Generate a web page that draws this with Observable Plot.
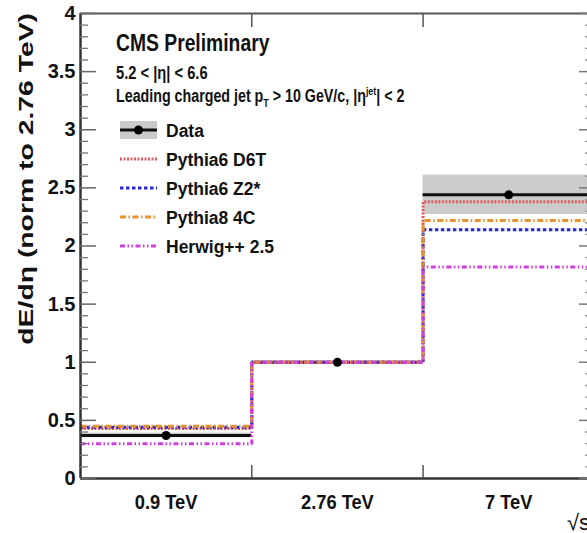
<!DOCTYPE html>
<html><head><meta charset="utf-8">
<script src="https://cdn.jsdelivr.net/npm/d3@7"></script>
<script src="https://cdn.jsdelivr.net/npm/@observablehq/plot@0.6"></script>
<style>html,body{margin:0;padding:0;background:#fff;overflow:hidden;}</style>
</head><body><div id="chart"></div>
<script>
// ---- data ----
const categories = ["0.9 TeV", "2.76 TeV", "7 TeV"];
const dataValues = [0.37, 1.0, 2.44];
const dataErrors = [0.02, 0.0, 0.17];
const d6tValues = [0.43, 1.0, 2.38];
const z2Values = [0.44, 1.0, 2.14];
const p8Values = [0.45, 1.0, 2.22];
const herwigValues = [0.30, 1.0, 1.82];
const seriesNames = ["Pythia6 D6T", "Pythia6 Z2*", "Pythia8 4C", "Herwig++ 2.5"];
const yMajorTicks = [0, 0.5, 1, 1.5, 2, 2.5, 3, 3.5, 4];
const yTickLabels = ["0", "0.5", "1", "1.5", "2", "2.5", "3", "3.5", "4"];

// ---- styles ----
const seriesColors = ["#e05c5c", "#2a2ad0", "#e8922e", "#d040de"];
const seriesDash = ["2,1.5", "3.5,2.5", "6,2.5,1.5,2.5", "5,2.5,1.5,2.5,1.5,2.5"];
const font = "'Liberation Sans', Arial, Helvetica, sans-serif";

const seriesValues = [d6tValues, z2Values, p8Values, herwigValues];
const bins = categories.map((c, i) => ({
  cat: c, x1: i, x2: i + 1, xc: i + 0.5,
  y: dataValues[i], lo: dataValues[i] - dataErrors[i], hi: dataValues[i] + dataErrors[i], err: dataErrors[i]
}));
const steps = vals => [...vals.map((v, i) => ({x: i, y: v})), {x: vals.length, y: vals[vals.length - 1]}];
const yMinor = d3.range(0, 4.001, 0.1).map(v => +v.toFixed(1)).filter(v => !yMajorTicks.includes(v));
const binEdges = d3.range(1, categories.length);
const binCenters = categories.map((c, i) => i + 0.5);
const xMax = 2.96; // right edge of the frame is cropped in the reference

const axisStroke = "#333";
const plot = Plot.plot({
  width: 587, height: 533,
  marginLeft: 80, marginRight: 0, marginTop: 13, marginBottom: 55,
  style: {fontFamily: font, fontWeight: "bold", color: "#111", background: "#fff"},
  x: {domain: [0, xMax], axis: null},
  y: {domain: [0, 4], axis: null},
  marks: [
    Plot.rect(bins.filter(d => d.err > 0), {x1: "x1", x2: "x2", y1: "lo", y2: "hi", fill: "#cbcbcb", clip: true}),
    Plot.ruleY(bins, {x1: "x1", x2: "x2", y: "y", stroke: "#111", strokeWidth: 3, clip: true}),
    ...seriesValues.map((vals, k) => Plot.line(steps(vals), {
      x: "x", y: "y", curve: "step-after", stroke: seriesColors[k], strokeWidth: 3,
      strokeDasharray: seriesDash[k], strokeLinecap: "butt", strokeLinejoin: "miter", clip: true
    })),
    Plot.dot(bins, {x: "xc", y: "y", r: 4.5, fill: "#000", stroke: "none"}),
    // frame
    Plot.ruleX([0], {stroke: axisStroke, strokeWidth: 2.5}),
    Plot.ruleY([0], {stroke: axisStroke, strokeWidth: 2.5}),
    Plot.ruleY([4], {stroke: "#555", strokeWidth: 2}),
    // y axes
    Plot.axisY({anchor: "left", ticks: yMajorTicks, tickFormat: (d, i) => yTickLabels[i], tickSize: -16, tickPadding: 21, fontSize: 20, stroke: "#666", strokeWidth: 1.5, label: null}),
    Plot.axisY({anchor: "left", ticks: yMinor, tickSize: -8, text: null, stroke: "#777", strokeWidth: 1.3, label: null}),
    Plot.axisY({anchor: "right", ticks: yMajorTicks, tickSize: -9, text: null, stroke: "#777", strokeWidth: 1.5, label: null}),
    Plot.axisY({anchor: "right", ticks: yMinor, tickSize: -3, text: null, stroke: "#999", strokeWidth: 1.3, label: null}),
    // x axes
    Plot.axisX({anchor: "bottom", ticks: binCenters, tickFormat: (d, i) => categories[i], tickSize: 0, tickPadding: 16, fontSize: 21, label: null}),
    Plot.axisX({anchor: "bottom", ticks: binEdges, tickSize: -13, text: null, stroke: "#555", strokeWidth: 1.5, label: null}),
    Plot.axisX({anchor: "top", ticks: binEdges, tickSize: -13, text: null, stroke: "#555", strokeWidth: 1.5, label: null})
  ]
});
document.getElementById("chart").appendChild(plot);

const svg = d3.select(plot);
// condense x tick labels
svg.selectAll('g[aria-label="x-axis tick label"] text').attr("transform", function() {
  return (this.getAttribute("transform") || "") + " scale(0.87,1)";
});

const ann = svg.append("g").attr("font-family", font).attr("font-weight", "bold")
  .attr("fill", "#111").attr("text-anchor", "start");

// y-axis title
ann.append("text").attr("transform", "translate(33,13) rotate(-90) scale(1.35,1)")
  .attr("text-anchor", "end").attr("font-size", 21).text("dE/dη (norm to 2.76 TeV)");

// x-axis title (cropped at the right edge, as in the reference)
ann.append("text").attr("x", 567).attr("y", 530).attr("font-size", 22).attr("font-weight", "normal").text("√s");

// header texts
ann.append("text").attr("transform", "translate(116,51) scale(0.84,1)").attr("font-size", 23).text("CMS Preliminary");
ann.append("text").attr("transform", "translate(116,79) scale(0.84,1)").attr("font-size", 17.5).text("5.2 < |η| < 6.6");
const t3 = ann.append("text").attr("transform", "translate(116,101.5) scale(0.815,1)").attr("font-size", 17.5);
t3.append("tspan").text("Leading charged jet p");
t3.append("tspan").attr("font-size", 11).attr("dy", 5).text("T");
t3.append("tspan").attr("dy", -5).text(" > 10 GeV/c, |η");
t3.append("tspan").attr("font-size", 11).attr("dy", -7).text("jet");
t3.append("tspan").attr("dy", 7).text("| < 2");

// legend
const legX1 = 120, legX2 = 157, legText = 166, legY0 = 130, legStep = 29;
const lg = ann.append("g");
lg.append("rect").attr("x", legX1).attr("y", legY0 - 9).attr("width", legX2 - legX1).attr("height", 18).attr("fill", "#cbcbcb");
lg.append("line").attr("x1", legX1).attr("x2", legX2).attr("y1", legY0).attr("y2", legY0).attr("stroke", "#111").attr("stroke-width", 3);
lg.append("circle").attr("cx", (legX1 + legX2) / 2).attr("cy", legY0).attr("r", 4.5).attr("fill", "#000");
lg.append("text").attr("x", legText).attr("y", legY0 + 7).attr("font-size", 17.5).text("Data");
seriesNames.forEach((name, k) => {
  const yy = legY0 + legStep * (k + 1);
  lg.append("line").attr("x1", legX1).attr("x2", legX2).attr("y1", yy).attr("y2", yy)
    .attr("stroke", seriesColors[k]).attr("stroke-width", 3).attr("stroke-dasharray", seriesDash[k]).attr("stroke-linecap", "butt");
  lg.append("text").attr("x", legText).attr("y", yy + 7).attr("font-size", 17.5).text(name);
});
</script>
</body></html>
